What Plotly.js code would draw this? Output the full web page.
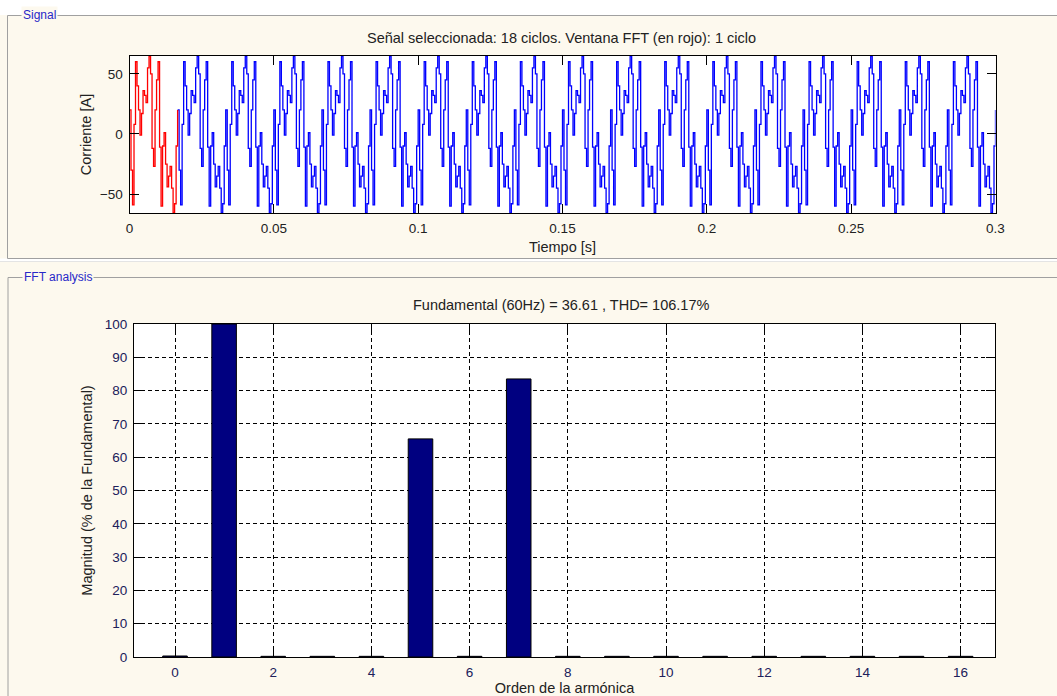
<!DOCTYPE html>
<html>
<head>
<meta charset="utf-8">
<script src="https://cdn.plot.ly/plotly-3.0.1.min.js"></script>
<style>
html,body{margin:0;padding:0;background:#fdf9ee;}
#chart{width:1057px;height:696px;}
</style>
</head>
<body>
<div id="chart"></div>
<script>
// ---- Data ----
const cycleCurrent = [20, -30, -59, 8, 60, 40, 20, -1, 17, 36, 32, 26, 55, 64.8, 50, -12,
                      -27, 20, 45, 60, -11, -60, -10, 1, -25, -44, -35, -27, -45, -65.7, -58, -10];
const fundamentalHz = 60;
const cyclesSelected = 18;      // "18 ciclos"
const fftWindowCycles = 1;      // "1 ciclo" (red)
const timeTickVals = [0, 0.05, 0.1, 0.15, 0.2, 0.25, 0.3];
const timeTickText = ['0', '0.05', '0.1', '0.15', '0.2', '0.25', '0.3'];
const currentTickVals = [-50, 0, 50];

const harmonicOrders = [0, 1, 2, 3, 4, 5, 6, 7, 8, 9, 10, 11, 12, 13, 14, 15, 16];
const harmonicMagnitudes = [0.3, 100, 0.2, 0.2, 0.2, 65.5, 0.2, 83.5, 0.2, 0.2, 0.2, 0.2, 0.2, 0.2, 0.2, 0.2, 0.2];
const harmonicTickVals = [0, 2, 4, 6, 8, 10, 12, 14, 16];
const magnitudeTickVals = [0, 10, 20, 30, 40, 50, 60, 70, 80, 90, 100];

const titleSignal = 'Señal seleccionada: 18 ciclos. Ventana FFT (en rojo): 1 ciclo';
const titleFFT = 'Fundamental (60Hz) = 36.61 , THD= 106.17%';

// ---- Build the sampled time series from the repeated cycle ----
const n = cycleCurrent.length;
const dt = 1 / fundamentalHz / n;
function buildSeries(startCycle, endCycle) {
  const t = [], y = [];
  for (let c = startCycle; c < endCycle; c++) {
    for (let k = 0; k < n; k++) {
      t.push((c * n + k) * dt);
      y.push(cycleCurrent[k]);
    }
  }
  t.push(endCycle * n * dt);
  y.push(cycleCurrent[0]);
  return {t, y};
}
const blue = buildSeries(fftWindowCycles, cyclesSelected);
const red = buildSeries(0, fftWindowCycles);

const W = 1057, H = 696;
const px = v => v / W;
const py = v => 1 - v / H;
const cream = '#fdf9ee';
const font = '"Liberation Sans", Arial, sans-serif';

const traces = [
  {x: blue.t, y: blue.y, type: 'scatter', mode: 'lines', line: {color: '#0000ff', width: 1.3, shape: 'hv'},
   xaxis: 'x', yaxis: 'y', hoverinfo: 'skip'},
  {x: red.t, y: red.y, type: 'scatter', mode: 'lines', line: {color: '#ff0000', width: 1.3, shape: 'hv'},
   xaxis: 'x', yaxis: 'y', hoverinfo: 'skip'},
  {x: harmonicOrders, y: harmonicMagnitudes, type: 'bar', width: 0.5,
   marker: {color: '#000080', line: {color: '#000000', width: 1}},
   xaxis: 'x2', yaxis: 'y2', hoverinfo: 'skip'}
];

const axisCommon = {
  ticks: 'inside', ticklen: 9, tickwidth: 1, tickcolor: '#000',
  showline: true, linecolor: '#000', linewidth: 1, mirror: 'allticks',
  zeroline: false, fixedrange: true
};

const layout = {
  width: W, height: H,
  margin: {l: 0, r: 0, t: 0, b: 0},
  paper_bgcolor: cream, plot_bgcolor: '#ffffff',
  showlegend: false,
  font: {family: font, size: 13.5, color: '#222'},
  xaxis: Object.assign({}, axisCommon, {
    domain: [px(129.5), px(995.5)], anchor: 'y', range: [0, 0.3],
    tickvals: timeTickVals, ticktext: timeTickText, showgrid: false,
    ticklabelstandoff: 3,
    title: {text: 'Tiempo [s]', standoff: 6, font: {size: 14.5, color: '#222'}}
  }),
  yaxis: Object.assign({}, axisCommon, {
    domain: [py(213), py(56)], anchor: 'x', range: [-65.7, 64.8],
    tickvals: currentTickVals, showgrid: false, ticklabelstandoff: 3,
    title: {text: 'Corriente [A]', standoff: 4, font: {size: 14.5, color: '#222'}}
  }),
  xaxis2: Object.assign({}, axisCommon, {
    domain: [px(134), px(995)], anchor: 'y2', range: [-0.835, 16.7],
    tickvals: harmonicTickVals, showgrid: true, gridcolor: '#000', gridwidth: 1, griddash: '4px,3px',
    tickfont: {color: '#20205a'}, ticklabelstandoff: 3,
    title: {text: 'Orden de la armónica', standoff: 4, font: {size: 14.5, color: '#222'}}
  }),
  yaxis2: Object.assign({}, axisCommon, {
    domain: [py(657), py(324)], anchor: 'x2', range: [0, 100],
    tickvals: magnitudeTickVals, showgrid: true, gridcolor: '#000', gridwidth: 1, griddash: '4px,3px',
    tickfont: {color: '#20205a'}, ticklabelstandoff: 3,
    title: {text: 'Magnitud (% de la Fundamental)', standoff: 8, font: {size: 14.5, color: '#222'}}
  }),
  shapes: [
    {type: 'rect', xref: 'paper', yref: 'paper', x0: 0, x1: 1, y0: py(15), y1: 1,
     fillcolor: '#ffffff', line: {width: 0}, layer: 'below'},
    {type: 'rect', xref: 'paper', yref: 'paper', x0: 0, x1: 1, y0: py(261.5), y1: py(258.5),
     fillcolor: '#ffffff', line: {width: 0}, layer: 'below'},
    {type: 'rect', xref: 'paper', yref: 'paper', x0: px(7.5), x1: px(1062), y0: py(258.5), y1: py(15.5),
     fillcolor: 'rgba(0,0,0,0)', line: {color: '#a0a0a0', width: 1}, layer: 'below'},
    {type: 'line', xref: 'paper', yref: 'paper', x0: 0, x1: 1, y0: py(261.5), y1: py(261.5),
     line: {color: '#e4e4e4', width: 1}, layer: 'below'},
    {type: 'rect', xref: 'paper', yref: 'paper', x0: px(8), x1: px(1062), y0: py(720), y1: py(277.5),
     fillcolor: 'rgba(0,0,0,0)', line: {color: '#a0a0a0', width: 1}, layer: 'below'}
  ],
  annotations: [
    {text: titleSignal, xref: 'paper', yref: 'paper', x: px(561.5), y: py(38),
     xanchor: 'center', yanchor: 'middle', showarrow: false, font: {size: 14.5, color: '#222'}},
    {text: titleFFT, xref: 'paper', yref: 'paper', x: px(561.3), y: py(305),
     xanchor: 'center', yanchor: 'middle', showarrow: false, font: {size: 14.5, color: '#222'}},
    {text: 'Signal', xref: 'paper', yref: 'paper', x: px(21), y: py(15),
     xanchor: 'left', yanchor: 'middle', showarrow: false, bgcolor: cream, borderpad: 1,
     font: {size: 12, color: '#2828c8'}},
    {text: 'FFT analysis', xref: 'paper', yref: 'paper', x: px(22), y: py(277),
     xanchor: 'left', yanchor: 'middle', showarrow: false, bgcolor: cream, borderpad: 1,
     font: {size: 12, color: '#2828c8'}}
  ]
};

Plotly.newPlot('chart', traces, layout, {displayModeBar: false, staticPlot: true});
</script>
</body>
</html>
